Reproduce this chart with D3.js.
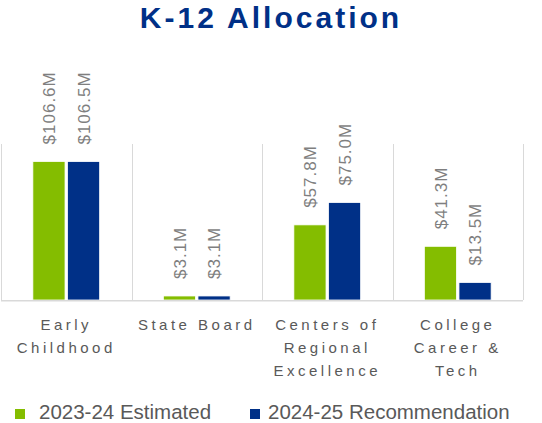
<!DOCTYPE html>
<html>
<head>
<meta charset="utf-8">
<script src="https://cdn.jsdelivr.net/npm/d3@7"></script>
<style>
  html, body { margin: 0; padding: 0; background: #fff; }
  svg { display: block; }
  .title { font-family: "Liberation Sans", Arial, sans-serif; font-weight: bold; font-size: 30px; fill: #003087; letter-spacing: 3px; }
  .val { font-family: "Liberation Sans", Arial, sans-serif; font-size: 17px; fill: #7f7f7f; letter-spacing: 1px; }
  .cat text { font-family: "Liberation Sans", Arial, sans-serif; font-size: 15px; fill: #595959; letter-spacing: 3.5px; }
  .legend text { font-family: "Liberation Sans", Arial, sans-serif; font-size: 20.5px; fill: #595959; }
</style>
</head>
<body>
<div id="chart"></div>
<script>
'use strict';

// Daten
const categories = ['Early Childhood', 'State Board', 'Centers of Regional Excellence', 'College Career & Tech'];
const categoryLines = [['Early', 'Childhood'], ['State Board'], ['Centers of', 'Regional', 'Excellence'], ['College', 'Career &', 'Tech']];
const series = ['2023-24 Estimated', '2024-25 Recommendation'];
const estimated = [106.6, 3.1, 57.8, 41.3];
const recommendation = [106.5, 3.1, 75.0, 13.5];
const colors = ['#84bd00', '#003087'];

const width = 542, height = 423;
const plot = { left: 1, right: 523, top: 144, bottom: 300 };

const svg = d3.select('#chart').append('svg')
  .attr('width', width)
  .attr('height', height);

svg.append('text')
  .attr('class', 'title')
  .attr('x', width / 2)
  .attr('y', 28)
  .attr('text-anchor', 'middle')
  .text('K-12 Allocation');

const x0 = d3.scaleBand().domain(categories).range([plot.left, plot.right]).padding(0);
const x1 = d3.scaleBand().domain(series).range([0, x0.bandwidth()]).paddingInner(0.07).paddingOuter(0.92);
const y = d3.scaleLinear().domain([0, 120]).range([plot.bottom, plot.top]);

// Trennlinien zwischen Kategorien
const edges = categories.map(c => x0(c)).concat([plot.right]);
svg.append('g').selectAll('line')
  .data(edges)
  .join('line')
  .attr('x1', d => Math.round(d) + 0.5)
  .attr('x2', d => Math.round(d) + 0.5)
  .attr('y1', plot.top)
  .attr('y2', plot.bottom)
  .attr('stroke', '#d9d9d9')
  .attr('stroke-width', 1);

const rows = categories.map((c, i) => ({ cat: c, values: [estimated[i], recommendation[i]] }));

const groups = svg.append('g').selectAll('g')
  .data(rows)
  .join('g')
  .attr('transform', d => `translate(${x0(d.cat)},0)`);

groups.selectAll('rect')
  .data(d => d.values.map((v, j) => ({ s: series[j], v, j })))
  .join('rect')
  .attr('x', d => x1(d.s))
  .attr('width', x1.bandwidth())
  .attr('y', d => y(d.v))
  .attr('height', d => y(0) - y(d.v))
  .attr('fill', d => colors[d.j])
  .attr('stroke', '#fff')
  .attr('stroke-width', 0.8);

groups.selectAll('text.val')
  .data(d => d.values.map((v, j) => ({ s: series[j], v, j })))
  .join('text')
  .attr('class', 'val')
  .attr('transform', d => `translate(${x1(d.s) + x1.bandwidth() / 2},${y(d.v) - 17}) rotate(-90)`)
  .attr('dy', '0.36em')
  .text(d => '$' + d.v.toFixed(1) + 'M');

// Grundlinie
svg.append('line')
  .attr('x1', plot.left)
  .attr('x2', plot.right)
  .attr('y1', plot.bottom + 0.75)
  .attr('y2', plot.bottom + 0.75)
  .attr('stroke', '#d9d9d9')
  .attr('stroke-width', 1.5);

// Kategorie-Achse
const axis = svg.append('g')
  .attr('class', 'cat')
  .attr('transform', `translate(0,${plot.bottom})`)
  .call(d3.axisBottom(x0).tickSize(0).tickPadding(0));
axis.select('.domain').remove();
axis.selectAll('.tick text')
  .attr('y', 0)
  .attr('dy', null)
  .text(null)
  .selectAll('tspan')
  .data(d => categoryLines[categories.indexOf(d)])
  .join('tspan')
  .attr('x', 0)
  .attr('y', (d, i) => 30 + i * 23)
  .text(d => d);

// Legende
const legendX = [15, 250];
const legend = svg.append('g').attr('class', 'legend')
  .selectAll('g')
  .data(series)
  .join('g')
  .attr('transform', (d, i) => `translate(${legendX[i]},409)`);
legend.append('rect')
  .attr('width', 10)
  .attr('height', 10)
  .attr('fill', (d, i) => colors[i]);
legend.append('text')
  .attr('x', (d, i) => i === 0 ? 24 : 18)
  .attr('y', 10)
  .text(d => d);
</script>
</body>
</html>
